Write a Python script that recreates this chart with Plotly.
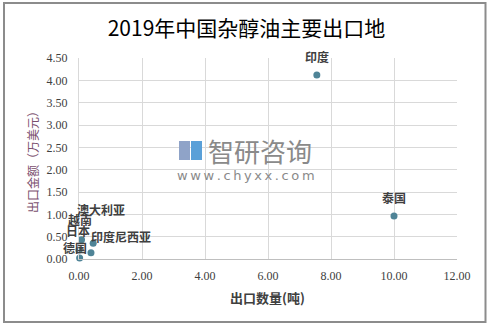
import plotly.graph_objects as go

countries = ["印度", "泰国", "澳大利亚", "越南", "日本", "印度尼西亚", "德国"]
qty = [7.55, 10.0, 0.45, 0.08, 0.0, 0.38, 0.02]
value = [4.12, 0.96, 0.35, 0.43, 0.20, 0.14, 0.02]

x_ticks = [0, 2, 4, 6, 8, 10, 12]
y_ticks = [0, 0.5, 1.0, 1.5, 2.0, 2.5, 3.0, 3.5, 4.0, 4.5]

# label pixel offsets (style)
label_shift = {
    "印度": (0, 18), "泰国": (0, 19), "澳大利亚": (8, 34), "越南": (-2, 20),
    "日本": (-1, 20), "印度尼西亚": (30, 16), "德国": (-5, 11),
}

FONT = "Noto Sans CJK SC"
fig = go.Figure()
fig.add_trace(go.Scatter(
    x=qty, y=value, mode="markers",
    marker=dict(color="#4f8497", size=7),
    hoverinfo="skip", showlegend=False, cliponaxis=False,
))

for c, xv, yv in zip(countries, qty, value):
    dx, dy = label_shift[c]
    fig.add_annotation(x=xv, y=yv, text="<b>" + c + "</b>", showarrow=False, xshift=dx, yshift=dy,
                       xanchor="center", yanchor="middle",
                       font=dict(family=FONT, size=12, color="#404040"))

L, T, R, B = 79, 58, 36, 67
W, H = 493, 326
pw, ph = W - L - R, H - T - B

def px(xp):
    return (xp - L) / pw

def py(yp):
    return (H - B - yp) / ph

# outer frame
fig.add_shape(type="rect", xref="paper", yref="paper",
              x0=px(4), x1=px(485.5), y0=py(322), y1=py(3),
              line=dict(color="#8c8c8c", width=2), layer="below")

# watermark
fig.add_annotation(xref="paper", yref="paper", x=px(260), y=py(150), text="智研咨询",
                   xanchor="center", yanchor="middle",
                   showarrow=False, font=dict(family=FONT, size=26, color="#8a8a8a"))
fig.add_annotation(xref="paper", yref="paper", x=px(246), y=py(175),
                   text="\u2009".join("www.chyxx.com"),
                   xanchor="center", yanchor="middle",
                   showarrow=False, font=dict(family="DejaVu Sans", size=13, color="#8a8a8a"))
fig.add_shape(type="rect", xref="paper", yref="paper", x0=px(179), x1=px(190),
              y0=py(160), y1=py(141), fillcolor="#8fa3c8", line=dict(width=0))
fig.add_shape(type="rect", xref="paper", yref="paper", x0=px(191), x1=px(202),
              y0=py(160), y1=py(141), fillcolor="#5aa0d8", line=dict(width=0))

# axis titles
fig.add_annotation(xref="paper", yref="paper", x=px(267), y=py(297), text="<b>出口数量(吨)</b>",
                   xanchor="center", yanchor="middle",
                   showarrow=False, font=dict(family=FONT, size=13, color="#404040"))
fig.add_annotation(xref="paper", yref="paper", x=px(32), y=py(159), text="出口金额（万美元）",
                   xanchor="center", yanchor="middle",
                   textangle=-90, showarrow=False,
                   font=dict(family=FONT, size=12, color="#7b4f6e"))

fig.update_layout(
    width=W, height=H,
    margin=dict(l=L, r=R, t=T, b=B),
    paper_bgcolor="white", plot_bgcolor="white",
    title=dict(text="2019年中国杂醇油主要出口地", x=0.5, xref="container", y=1 - 29 / H,
               yanchor="middle", xanchor="center",
               font=dict(family=FONT, size=21, color="#000000")),
    xaxis=dict(range=[0, 12], tickvals=x_ticks, ticktext=[f"{v:.2f}" for v in x_ticks],
               showgrid=True, gridcolor="#d9d9d9", gridwidth=1,
               showline=True, linecolor="#bfbfbf", linewidth=1, zeroline=False,
               ticks="", ticklabelstandoff=6,
               tickfont=dict(family="Liberation Serif", size=12, color="#404040")),
    yaxis=dict(range=[0, 4.5], tickvals=y_ticks, ticktext=[f"{v:.2f}" for v in y_ticks],
               showgrid=True, gridcolor="#d9d9d9", gridwidth=1,
               showline=True, linecolor="#d9d9d9", linewidth=1, zeroline=False,
               ticks="", ticklabelstandoff=8,
               tickfont=dict(family="Liberation Serif", size=12, color="#404040")),
)

fig.write_html("out.html")
